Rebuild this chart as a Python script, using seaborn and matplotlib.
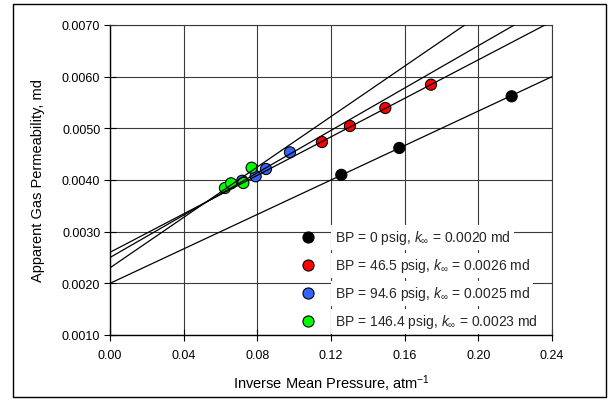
import matplotlib
matplotlib.use("Agg")
import numpy as np
import pandas as pd
import seaborn as sns
import matplotlib.pyplot as plt
from matplotlib.lines import Line2D
from matplotlib.patches import Rectangle

# Back-pressure series: label, Klinkenberg intercept (k_inf) and fitted slope
backpressure = ["0", "46.5", "94.6", "146.4"]
k_inf = [0.0020, 0.0026, 0.0025, 0.0023]
slope = [0.01667, 0.01863, 0.0205, 0.0244]
colors = ["#000000", "#FF0000", "#3366FF", "#00FF00"]

# Measured apparent permeability vs inverse mean pressure
inv_p_bp0 = [0.1256, 0.1571, 0.2181]
k_app_bp0 = [0.00410, 0.00462, 0.00562]
inv_p_bp46 = [0.1151, 0.1303, 0.1495, 0.1743]
k_app_bp46 = [0.004735, 0.005045, 0.005394, 0.005845]
inv_p_bp95 = [0.0718, 0.0791, 0.0847, 0.0977]
k_app_bp95 = [0.003986, 0.004072, 0.004213, 0.004536]
inv_p_bp146 = [0.0624, 0.0657, 0.0724, 0.0769]
k_app_bp146 = [0.003845, 0.003936, 0.003942, 0.004238]

x_ticks = [0.00, 0.04, 0.08, 0.12, 0.16, 0.20, 0.24]
y_ticks = [0.0010, 0.0020, 0.0030, 0.0040, 0.0050, 0.0060, 0.0070]

sns.set_theme(style="white")
plt.rcParams["font.family"] = ["Liberation Sans", "DejaVu Sans"]
plt.rcParams["mathtext.fontset"] = "custom"
plt.rcParams["mathtext.rm"] = "Liberation Sans"
plt.rcParams["mathtext.it"] = "Liberation Sans:italic"

series_x = [inv_p_bp0, inv_p_bp46, inv_p_bp95, inv_p_bp146]
series_y = [k_app_bp0, k_app_bp46, k_app_bp95, k_app_bp146]
df = pd.concat(
    [pd.DataFrame({"inv_p": xs, "k_app": ys, "bp": bp})
     for xs, ys, bp in zip(series_x, series_y, backpressure)],
    ignore_index=True,
)

fig = plt.figure(figsize=(6.09, 4.02), dpi=100)
ax = fig.add_axes([110 / 609, 1 - 336 / 402, 442 / 609, 310 / 402])

ax.set_xlim(x_ticks[0], x_ticks[-1])
ax.set_ylim(y_ticks[0], y_ticks[-1])

sns.scatterplot(data=df, x="inv_p", y="k_app", hue="bp", palette=colors,
                hue_order=backpressure, s=64, edgecolor="black", linewidth=0.8,
                legend=False, zorder=3, ax=ax)

# Klinkenberg straight lines across the whole x range
x_line = np.array(ax.get_xlim())
for b, m in zip(k_inf, slope):
    sns.lineplot(x=x_line, y=b + m * x_line, color="black", linewidth=0.9,
                 zorder=4, ax=ax)

ax.set_xlim(x_ticks[0], x_ticks[-1])
ax.set_ylim(y_ticks[0], y_ticks[-1])
ax.set_xticks(x_ticks)
ax.set_yticks(y_ticks)
ax.set_xticklabels([f"{v:.2f}" for v in x_ticks])
ax.set_yticklabels([f"{v:.4f}" for v in y_ticks])
ax.grid(True, color="#3a3a3a", linewidth=0.8)
ax.set_axisbelow(True)
for side in ["left", "bottom"]:
    ax.spines[side].set_color("black")
    ax.spines[side].set_linewidth(1.0)
for side in ["top", "right"]:
    ax.spines[side].set_color("#3a3a3a")
    ax.spines[side].set_linewidth(0.8)
ax.tick_params(bottom=True, left=True, direction="inout", length=8, width=0.8,
               color="black", labelsize=9, labelcolor="black", pad=3)
ax.tick_params(axis="x", pad=6)

ax.set_xlabel("Inverse Mean Pressure, atm$^{-1}$", fontsize=10.5, color="black")
ax.set_ylabel("Apparent Gas Permeability, md", fontsize=10.5, color="black")
ax.xaxis.set_label_coords(0.5, -0.12)
ax.yaxis.set_label_coords(-0.147, 0.5)

handles = [Line2D([], [], marker="o", linestyle="", markerfacecolor=c,
                  markeredgecolor="black", markeredgewidth=0.8, markersize=8)
           for c in colors]
labels = [f"BP = {bp} psig, $k_{{\\infty}}$ = {k:.4f} md"
          for bp, k in zip(backpressure, k_inf)]
leg = ax.legend(handles, labels, loc="upper left",
                bbox_to_anchor=((302 - 110) / 442, (336 - 229.5) / 310),
                frameon=False, fontsize=10, handlelength=0.8,
                handletextpad=1.55, labelspacing=0.72, borderpad=0,
                borderaxespad=0)
for t in leg.get_texts():
    t.set_bbox(dict(facecolor="white", edgecolor="none", pad=2.5))
leg.set_zorder(6)

fig.add_artist(Rectangle((12.7 / 609, 1 - 398 / 402), (606 - 12.7) / 609,
                         (398 - 5) / 402, transform=fig.transFigure,
                         fill=False, edgecolor="black", linewidth=1.0))

fig.savefig("out.png", dpi=100)
